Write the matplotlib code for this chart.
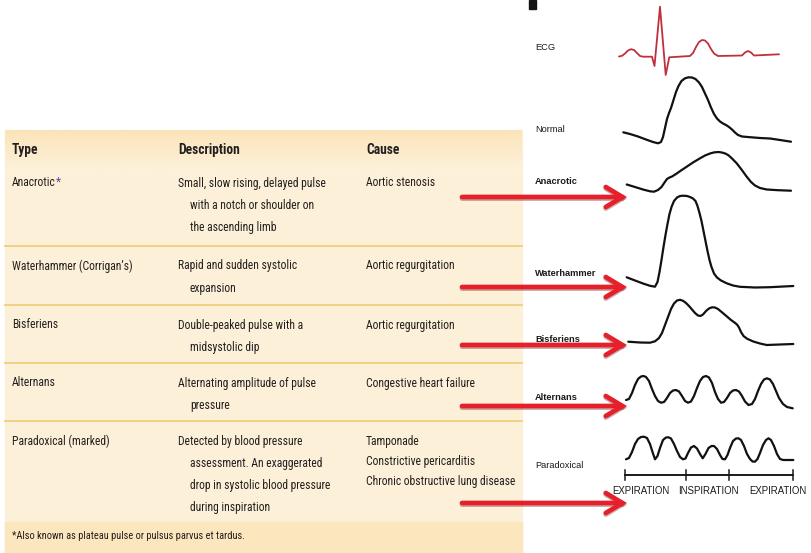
import numpy as np
import matplotlib
matplotlib.use("Agg")
import matplotlib.pyplot as plt
from matplotlib.patches import Rectangle, FancyArrowPatch

# ---- table data ----
header = ["Type", "Description", "Cause"]
types = ["Anacrotic", "Waterhammer (Corrigan\u2019s)", "Bisferiens", "Alternans", "Paradoxical (marked)"]
descriptions = [
    ["Small, slow rising, delayed pulse", "with a notch or shoulder on", "the ascending limb"],
    ["Rapid and sudden systolic", "expansion"],
    ["Double-peaked pulse with a", "midsystolic dip"],
    ["Alternating amplitude of pulse", "pressure"],
    ["Detected by blood pressure", "assessment. An exaggerated",
     "drop in systolic blood pressure", "during inspiration"],
]
causes = [
    ["Aortic stenosis"],
    ["Aortic regurgitation"],
    ["Aortic regurgitation"],
    ["Congestive heart failure"],
    ["Tamponade", "Constrictive pericarditis", "Chronic obstructive lung disease"],
]
footnote = "*Also known as plateau pulse or pulsus parvus et tardus."

# ---- waveform data (time, amplitude) ----
ecg_t = [4, 7, 10, 13, 16, 19, 22, 25, 28, 37, 39.5, 45, 50.7, 54.3, 75, 78, 81, 84, 87, 90,
         93, 96, 99, 103, 127, 130, 133, 136, 139, 164]
ecg_p = [23.5, 24.2, 26.5, 29.5, 30.8, 30, 27, 24, 23.3, 23.3, 14, 73.3, 5, 22.7, 24, 27, 33, 38,
         40, 39.5, 36.5, 31, 26.5, 24, 24.5, 27.5, 29, 27.5, 24.5, 25.7]

normal_t = [8.3, 15, 23, 31, 38, 43, 46, 48, 50, 52, 54, 56, 58.5, 61, 63.5, 66.5, 70, 73.5, 77,
            80.5, 84, 87, 90, 93, 96, 99, 102, 105, 108, 111, 114, 117, 120, 123, 127, 135, 145,
            155, 165, 176]
normal_p = [17.7, 16, 13.5, 10.5, 8, 6.7, 8, 13, 22, 31, 37, 42, 50, 58, 64, 69, 71.7, 72.7, 72.5,
            71, 67.5, 63, 56.5, 50, 42.5, 36, 31.5, 28.5, 26.5, 25, 23, 20.5, 17.5, 15, 13.5,
            12.8, 12, 11.5, 10, 8.3]

anacrotic_t = [11.7, 20, 28, 35, 39, 43, 46.5, 49.5, 52, 54.5, 57, 61, 66, 71.7, 78, 85, 90, 95,
               99, 103.3, 107, 110.5, 113.5, 117, 121.7, 126.5, 131.7, 136, 140, 145, 151.7, 163,
               176]
anacrotic_p = [15.5, 13, 10.5, 8.7, 8.3, 10, 13, 17.5, 21, 22.5, 23.5, 26, 29.5, 33.3, 37.5, 41.7,
               44.5, 46.5, 47.6, 48, 47.5, 46.4, 44.7, 41.5, 36.7, 30.5, 23.3, 18, 14.5, 12, 10.5,
               9.8, 9.3]

water_t = [11.7, 20, 28, 35, 40, 42.5, 44.5, 46.5, 48.5, 50.5, 52.5, 54.5, 56.5, 59, 62, 65,
           68.3, 72, 75, 78, 80.5, 82.5, 84.5, 86.5, 88.5, 90.5, 92.5, 94.5, 96.5, 99, 102, 106,
           111.7, 118, 125, 140, 155, 178.3]
water_p = [17.7, 14.5, 11.5, 9.2, 8.3, 13, 23, 35, 48, 60, 71, 81, 88, 94, 97.5, 99, 99.3, 99,
           98, 96.5, 94, 89, 82, 74, 64, 54, 44, 35, 28, 21.5, 17.5, 14.5, 11.7, 9.5, 8.2, 7.5,
           7.8, 9]

bisf_t = [13.3, 25, 35, 40, 44, 47, 50, 53, 56, 59, 62, 65, 68, 71, 74, 77, 80, 83, 85.5, 88, 91,
          94, 97, 100, 103, 106, 109, 112.5, 116, 119.5, 122, 124, 126, 128.5, 132, 138.3, 145,
          151.7, 165, 178.3]
bisf_p = [13.3, 12.5, 12.3, 13.7, 17, 22, 30, 38, 46, 51.5, 54.5, 55.2, 54.2, 52, 49, 45.5, 42,
          39.5, 39, 40.5, 44, 46.5, 47.7, 47.5, 46, 43.5, 41, 38, 35, 32.5, 30.5, 27.5, 23, 19,
          16.3, 13.5, 11.5, 10, 10.5, 11]

altern_t = [11, 14, 17, 20, 23, 26, 28.5, 31, 34, 37, 40, 43, 46, 49, 52, 55, 58, 61, 64, 67,
            70, 73, 76, 79, 82, 85, 88, 91, 94, 97, 100, 103, 106, 109, 112, 115, 118, 121, 124,
            127, 130, 133.5, 137, 140, 143, 146, 149, 152, 155, 158, 161, 164, 168, 172, 177.7]
altern_p = [15, 16, 22, 30, 36, 38.5, 39, 38, 34, 26, 19, 14, 12.3, 13, 17, 22, 24.5, 25, 23.5,
            19, 14, 12.3, 13.5, 19, 27, 34, 38, 39, 37.5, 32, 23, 16, 12.3, 13, 17, 22, 24.5, 25,
            23.5, 19, 13.5, 10, 11, 16, 24, 31, 35.5, 36.7, 35.5, 31, 24, 17, 11, 8, 6.7]

parad_t = [11, 14, 17, 20, 23, 26, 29, 32, 35, 37.5, 40, 42.5, 45, 48, 51, 53.5, 56, 59, 62, 65,
           68, 70.5, 73, 76, 79, 82, 85, 87.7, 90.5, 93.5, 96.5, 99, 102, 105, 107.5, 110, 112.5,
           115, 118, 121, 123.5, 126, 129, 132, 135, 137.5, 140, 142.5, 145, 148, 151, 153.5,
           156, 159, 162, 165, 168.3, 173, 178.3]
parad_p = [10.7, 12, 18, 26, 31, 33, 33.3, 32, 26, 18, 10.7, 14, 22, 30, 32.5, 32.7, 31.5, 26,
           19, 13, 10.7, 11.5, 17, 22.5, 24, 21.5, 16, 11.7, 16, 22, 24, 24, 21, 15, 11, 10.7,
           15, 22, 29, 31.5, 31.7, 30, 24, 16, 11, 8.5, 8.3, 11, 17, 25, 30, 31.7, 30, 24, 16,
           11, 10, 10, 10]

phase_edges = [10, 70.7, 114.3, 177.7]
phase_labels = ["EXPIRATION", "INSPIRATION", "EXPIRATION"]
phase_label_t = [26.3, 93.7, 162.7]

wave_names = ["ECG", "Normal", "Anacrotic", "Waterhammer", "Bisferiens", "Alternans", "Paradoxical"]

# ---- figure in pixel space ----
W, H = 811, 553
fig = plt.figure(figsize=(W / 100, H / 100), dpi=100)
ax = fig.add_axes([0, 0, 1, 1])
ax.set_xlim(0, W)
ax.set_ylim(H, 0)
ax.axis("off")

# table background
ax.add_patch(Rectangle((5, 130), 517, 423, color="#FDF0D8", zorder=0))
grad = np.linspace(0, 1, 40)[:, None, None]
top_c = np.array([251, 228, 185]) / 255
bot_c = np.array([253, 242, 220]) / 255
ax.imshow(top_c * (1 - grad) + bot_c * grad, extent=(5, 522, 172, 130),
          origin="upper", aspect="auto", zorder=0.5)
ax.add_patch(Rectangle((5, 522), 517, 31, color="#FBE6BD", zorder=0.6))
ax.set_xlim(0, W)
ax.set_ylim(H, 0)

for ys in [246, 305, 363, 421]:
    ax.plot([5, 522], [ys, ys], color="#F0D283", lw=1.4, zorder=1)

ink = "#231F20"
table_font = ["Roboto Condensed", "Liberation Sans Narrow", "Lato"]
renderer = fig.canvas.get_renderer()


def fit_size(s, target, **kw):
    t = ax.text(0, 0, s, fontsize=10, **kw)
    w = t.get_window_extent(renderer=renderer).width
    t.remove()
    return 10 * target / w


fs = fit_size(descriptions[0][0], 148, family=table_font)
fs_b = fit_size("Description", 62, family=table_font, weight="bold")
fs_n = fit_size(footnote, 232, family=table_font)

col_x = [12, 178, 366]
for x, h in zip(col_x, header):
    ax.text(x, 150, h, fontsize=fs_b, weight="bold", family=table_font, color=ink, va="center")

row_y = [183, 266, 325, 383, 441]
for i in range(len(types)):
    y0 = row_y[i]
    tt = ax.text(col_x[0], y0, types[i], fontsize=fs, family=table_font, color=ink, va="center")
    if i == 0:
        ax.annotate("*", xy=(1, 1), xycoords=tt, va="top", ha="left", fontsize=fs,
                    family=table_font, color="#5E4B9C", xytext=(0.4, 0.5),
                    textcoords="offset points")
    for j, line in enumerate(descriptions[i]):
        x = col_x[1] if j == 0 else col_x[1] + 12
        ax.text(x, y0 + 22.2 * j, line, fontsize=fs, family=table_font, color=ink, va="center")
    for j, line in enumerate(causes[i]):
        ax.text(col_x[2], y0 + 20 * j, line, fontsize=fs, family=table_font, color=ink, va="center")

ax.text(12, 536, footnote, fontsize=fs_n, family=table_font, color=ink, va="center")

# cut-off fragment of the title glyph at the very top
ax.add_patch(Rectangle((529, 0), 7, 9, color="#141414", zorder=2))

# ---- waveforms ----
label_font = ["Liberation Sans", "DejaVu Sans"]
label_y = [48, 130, 182, 273, 340, 398, 466]
label_bold = [False, False, True, True, True, True, False]
for name, y, b in zip(wave_names, label_y, label_bold):
    ax.text(535, y, name, fontsize=6.7, family=label_font, weight="bold" if b else "normal",
            color="#1a1a1a", va="center")

# boxes: (bottom px, height px, ymin)
traces = [
    (ecg_t, ecg_p, 80, 80, 0, "#C0303C", 1.3),
    (normal_t, normal_p, 150, 80, 0, "#111111", 1.6),
    (anacrotic_t, anacrotic_p, 200, 60, 0, "#111111", 1.6),
    (water_t, water_p, 295, 110, 0, "#111111", 1.6),
    (bisf_t, bisf_p, 355, 65, 0, "#111111", 1.6),
    (altern_t, altern_p, 415, 45, 0, "#111111", 1.6),
    (parad_t, parad_p, 505, 80, -35, "#111111", 1.6),
]
x0, wpx = 615, 185
wave_axes = []
for t, p, bot, hpx, ymin, c, lw in traces:
    wa = fig.add_axes([x0 / W, 1 - bot / H, wpx / W, hpx / H])
    wa.set_xlim(0, wpx)
    wa.set_ylim(ymin, ymin + hpx)
    wa.axis("off")
    wa.patch.set_alpha(0)
    wa.plot(t, p, color=c, lw=lw, solid_joinstyle="round", solid_capstyle="round", clip_on=False)
    wave_axes.append(wa)

pa = wave_axes[-1]
pa.plot([phase_edges[0], phase_edges[-1]], [-5, -5], color="#1a1a1a", lw=1.4, clip_on=False)
for e in phase_edges:
    pa.plot([e, e], [-10, 0], color="#1a1a1a", lw=1.1, clip_on=False)
for s, t in zip(phase_labels, phase_label_t):
    pa.text(t, -20.5, s, ha="center", va="center", fontsize=6.9, family=label_font,
            color="#1a1a1a", clip_on=False)

# ---- red arrows ----
arrow_y = [197, 287, 345, 406, 503]
for y in arrow_y:
    for dy, col, a in [(1.6, "#6E0E10", 0.35), (0, "#E5202A", 1.0)]:
        ar = FancyArrowPatch((462, y + dy), (627, y + dy),
                             arrowstyle="->,head_length=0.6,head_width=0.36",
                             mutation_scale=20, lw=3.4, color=col, alpha=a,
                             shrinkA=0, shrinkB=0, joinstyle="miter", zorder=5)
        ax.add_patch(ar)

fig.savefig("out.png", dpi=100)
